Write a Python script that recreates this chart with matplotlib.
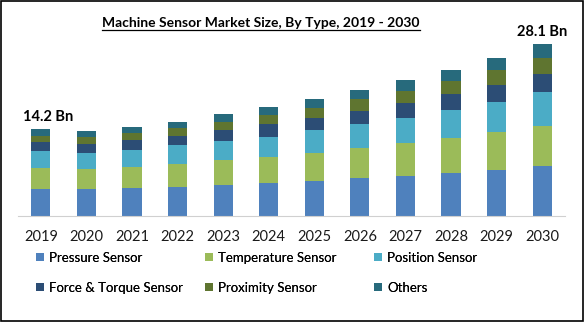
import matplotlib
matplotlib.use("Agg")
import matplotlib.pyplot as plt
import numpy as np

plt.rcParams["font.family"] = ["Lato", "DejaVu Sans"]

years = ["2019", "2020", "2021", "2022", "2023", "2024",
         "2025", "2026", "2027", "2028", "2029", "2030"]
segments = ["Pressure Sensor", "Temperature Sensor", "Position Sensor",
            "Force & Torque Sensor", "Proximity Sensor", "Others"]

pressure = [4.4, 4.4, 4.6, 4.7, 5.1, 5.4, 5.7, 6.2, 6.5, 7.0, 7.5, 8.2]
temperature = [3.4, 3.3, 3.5, 3.75, 4.1, 4.2, 4.6, 4.9, 5.4, 5.7, 6.2, 6.5]
position = [2.8, 2.6, 2.7, 3.1, 3.1, 3.4, 3.75, 3.9, 4.2, 4.6, 4.9, 5.6]
force_torque = [1.5, 1.5, 1.6, 1.5, 1.8, 2.0, 2.0, 2.1, 2.3, 2.6, 2.9, 2.9]
proximity = [1.0, 1.1, 1.1, 1.3, 1.25, 1.5, 1.6, 2.0, 2.0, 2.1, 2.3, 2.6]
others = [1.1, 1.0, 1.0, 1.1, 1.3, 1.3, 1.5, 1.5, 1.8, 1.8, 2.0, 2.3]

labels = {0: "14.2 Bn", 11: "28.1 Bn"}

colors = ["#4F81BD", "#9BBB59", "#4BACC6", "#2C4D75", "#5F7530", "#276A7C"]

fig = plt.figure(figsize=(5.84, 3.22), dpi=100)
ax = fig.add_axes([18 / 584, 0.329, 547 / 584, 0.57])

x = np.arange(len(years))
series = [pressure, temperature, position, force_torque, proximity, others]
bottom = np.zeros(len(years))
handles = []
for vals, col, name in zip(series, colors, segments):
    b = ax.bar(x, vals, 0.42, bottom=bottom, color=col, label=name)
    handles.append(b)
    bottom += np.array(vals)

ax.set_xlim(-0.5, 11.5)
ax.set_ylim(0, 30)
ax.set_yticks([])
ax.set_xticks(x)
ax.set_xticklabels(years, fontsize=10.5, color="#1a1a1a")
ax.tick_params(axis="x", length=0, pad=10)
for s in ["top", "right", "left"]:
    ax.spines[s].set_visible(False)
ax.spines["bottom"].set_color("#d0d0d0")

# totals for first and last year
ax.text(x[0] - 0.4, bottom[0] + 0.8, labels[0], ha="left", va="bottom",
        fontsize=10.5, fontweight="bold")
ax.text(x[11], bottom[11] + 0.8, labels[11], ha="center", va="bottom",
        fontsize=10.5, fontweight="bold")

# underlined title
title = fig.text(261 / 584, 0.93, "Machine Sensor Market Size, By Type, 2019 - 2030",
                 ha="center", va="center", fontsize=10, fontweight="bold")
fig.canvas.draw()
bb = title.get_window_extent().transformed(fig.transFigure.inverted())
fig.add_artist(plt.Line2D([bb.x0, bb.x1], [bb.y0 - 0.004, bb.y0 - 0.004],
                          color="black", lw=0.9, transform=fig.transFigure))

# legend: three columns placed by hand, filled row by row
col_x = [31 / 584, 200 / 584, 369 / 584]
for c in range(3):
    hs = [handles[c], handles[c + 3]]
    ls = [segments[c], segments[c + 3]]
    leg = fig.legend(handles=hs, labels=ls, loc="upper left",
                     bbox_to_anchor=(col_x[c], 0.234), frameon=False,
                     fontsize=9.5, handlelength=0.55, handleheight=0.55,
                     handletextpad=0.45, labelspacing=1.35, borderaxespad=0)
    fig.add_artist(leg)

fig.add_artist(plt.Rectangle((0.001, 0.002), 0.997, 0.995, fill=False,
                             edgecolor="black", lw=1.2, transform=fig.transFigure))

fig.savefig("out.png", dpi=100, facecolor="white")
